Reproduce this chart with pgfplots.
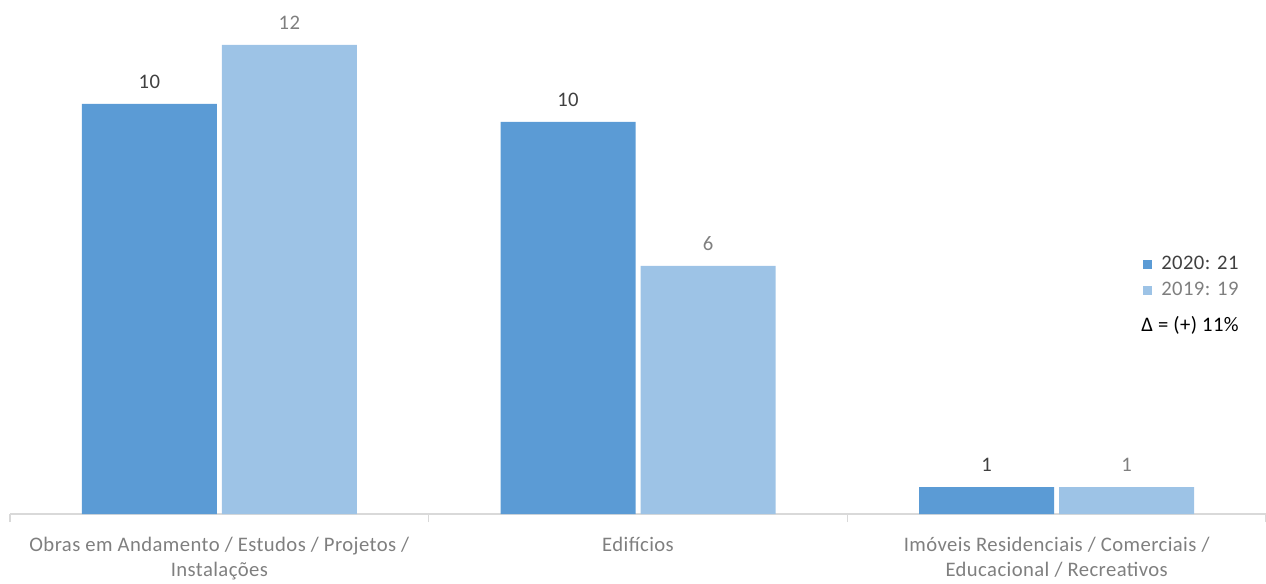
\documentclass[border=0pt]{standalone}
\usepackage{pgfplots}
\pgfplotsset{compat=1.18}
\usepackage{fontspec}
\setmainfont{Carlito}[LetterSpace=2]
\definecolor{c20}{HTML}{5B9BD5}
\definecolor{c19}{HTML}{9DC3E6}
\definecolor{txt}{HTML}{404040}
\definecolor{gr}{HTML}{7F7F7F}
\definecolor{ax}{HTML}{D9D9D9}
\begin{document}
\begin{tikzpicture}
\path[use as bounding box] (-7.5pt,-51.75pt) rectangle (942pt,385.5pt);
\begin{axis}[
  at={(0,0)}, anchor=south west,
  scale only axis, width=942pt, height=385.5pt,
  xmin=-0.5, xmax=2.5, ymin=0, ymax=13.15,
  ybar,
  axis x line*=bottom, axis y line=none, ytick=\empty,
  x axis line style={ax, line width=0.9pt, -},
  xtick={0,1,2},
  xticklabels={{Obras em Andamento / Estudos / Projetos /\\Instalações},{Edifícios},{Imóveis Residenciais / Comerciais /\\Educacional / Recreativos}},
  major x tick style={draw=none},
  minor xtick={-0.5,0.5,1.5,2.5},
  minor x tick style={ax, line width=0.9pt},
  minor tick length=6pt, tick align=outside,
  xticklabel style={align=center, text=gr, font=\fontsize{15.5}{18.75}\selectfont, yshift=-9.75pt},
  bar width=101.25pt, clip=false,
  point meta=explicit symbolic,
  nodes near coords,
  nodes near coords style={anchor=south, yshift=8pt, font=\fontsize{15.5}{18}\selectfont},
  legend style={at={(0.899,0.508)}, anchor=north west, draw=none, fill=none,
    font=\fontsize{15.5}{18}\selectfont, row sep=6.5pt,
    nodes={inner sep=0pt, text height=10pt, text depth=3pt},
    cells={anchor=west}},
  legend image code/.code={\fill[#1] (0pt,-3.2pt) rectangle (6.4pt,3.2pt);},
]
\addplot[ybar, bar shift=-52.5pt, fill=c20, draw=none,
  every node near coord/.append style={text=txt}]
  coordinates {(0,10.49) [10] (1,10.03) [10] (2,0.69) [1]};
\addlegendentry{\hspace*{7pt}\textcolor{txt}{2020: 21}}
\addplot[ybar, bar shift=52.5pt, fill=c19, draw=none,
  every node near coord/.append style={text=gr}]
  coordinates {(0,12.0) [12] (1,6.35) [6] (2,0.69) [1]};
\addlegendentry{\hspace*{7pt}\textcolor{gr}{2019: 19}}
\addlegendimage{empty legend}
\addlegendentry{\hspace*{-8pt}\raisebox{-7.5pt}{\textcolor{black}{Δ = (+) 11\%}}}
\end{axis}
\end{tikzpicture}
\end{document}
